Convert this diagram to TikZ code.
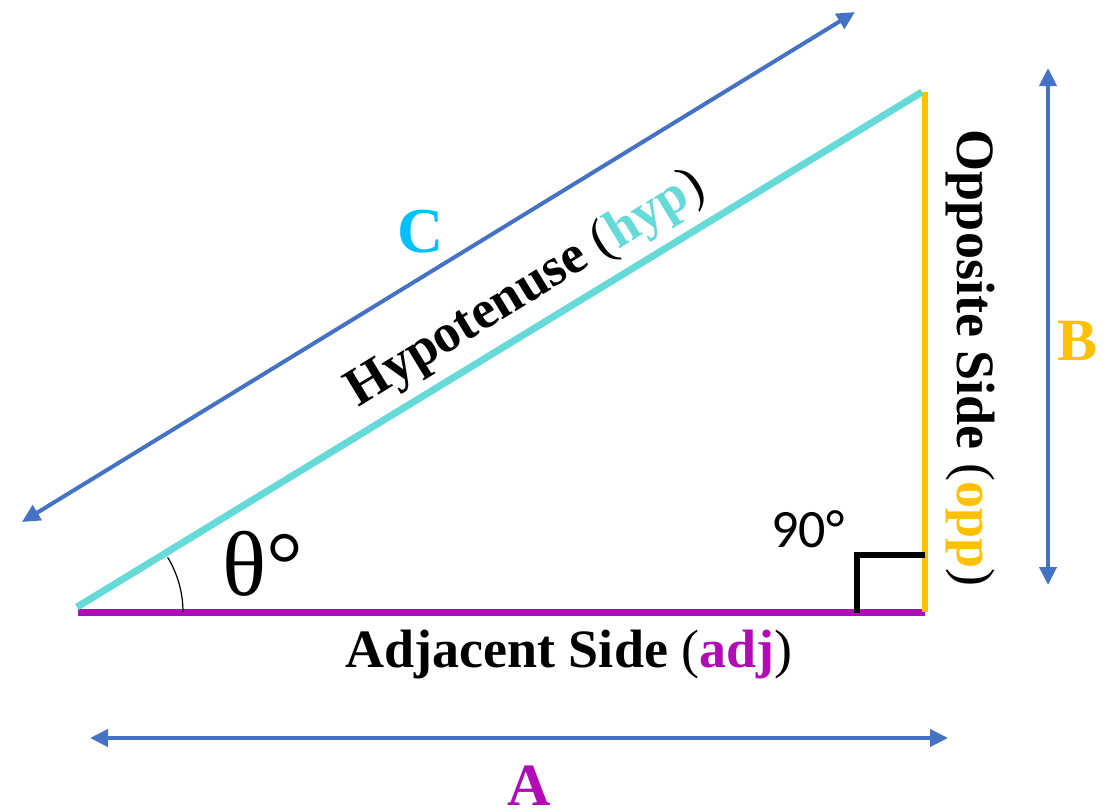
\documentclass[tikz,border=0pt]{standalone}
\usepackage{fontspec}
\setmainfont{Liberation Serif}
\newfontfamily\numfont{Carlito}
\usetikzlibrary{arrows.meta}
\definecolor{arrowblue}{HTML}{4472C4}
\definecolor{hypcyan}{HTML}{66D9D9}
\definecolor{adjpurple}{HTML}{B00BB4}
\definecolor{oppyellow}{HTML}{FFC000}
\definecolor{ccyan}{HTML}{00C0FF}
\tikzset{
  dimarrow/.style={arrowblue, line width=2pt, {Triangle[length=9pt,width=8.5pt]}-{Triangle[length=9pt,width=8.5pt]}},
  side/.style={line width=3.5pt},
  lbl/.style={font=\fontsize{27}{30}\selectfont, inner sep=0pt, anchor=base},
  letter/.style={font=\fontsize{30}{34}\selectfont\bfseries, inner sep=0pt, anchor=base},
}
\begin{document}
\begin{tikzpicture}[x=0.5pt,y=-0.5pt]
\useasboundingbox (0,0) rectangle (1117,810);
% triangle corners
\coordinate (Hb) at (77,607);
\coordinate (Ab) at (78,612);
\coordinate (Q) at (925,612);
\coordinate (Rt) at (925,92);
\coordinate (Ht) at (922,92);
% sides
\draw[side, adjpurple] (Ab) -- (Q);
\draw[side, oppyellow, line width=3pt] (Rt) -- (Q);
\draw[side, hypcyan] (Hb) -- (Ht);
% angle arc
\draw[line width=0.6pt] (183,612) arc[start angle=0, end angle=-31.4, radius=105];
% right angle mark
\coordinate (M1) at (857,613);
\coordinate (M2) at (857,555);
\coordinate (M3) at (925,555);
\draw[line width=3pt] (M1) -- (M2) -- (M3);
% dimension arrows
\coordinate (A1) at (90,738);
\coordinate (A2) at (948,738);
\coordinate (B1) at (1048,68);
\coordinate (B2) at (1048,585);
\coordinate (C1) at (22,522);
\coordinate (C2) at (855,12);
\draw[dimarrow] (A1) -- (A2);
\draw[dimarrow] (B1) -- (B2);
\draw[dimarrow] (C1) -- (C2);
% labels
\node[lbl] (adj) at (569,667) {\textbf{Adjacent Side} (\textcolor{adjpurple}{\textbf{adj}})};
\node[lbl, rotate=-90] (opp) at (957,358) {\textbf{Opposite Side} (\textcolor{oppyellow}{\textbf{opp}})};
\node[lbl, rotate=31.4] (hyp) at (533,301) {\textbf{Hypotenuse} (\textcolor{hypcyan}{\textbf{hyp}})};
\node[letter, adjpurple] (A) at (529,805) {A};
\node[letter, oppyellow] (B) at (1077,360) {B};
\node[letter, ccyan, font=\fontsize{32}{36}\selectfont\bfseries] (C) at (421,252) {C};
\node[inner sep=0pt, anchor=base, font=\fontsize{46}{50}\selectfont] (theta) at (263,595) {θ°};
\node[inner sep=0pt, anchor=base, font=\fontsize{27}{30}\selectfont\numfont] (ninety) at (808,547) {90°};
\end{tikzpicture}
\end{document}
